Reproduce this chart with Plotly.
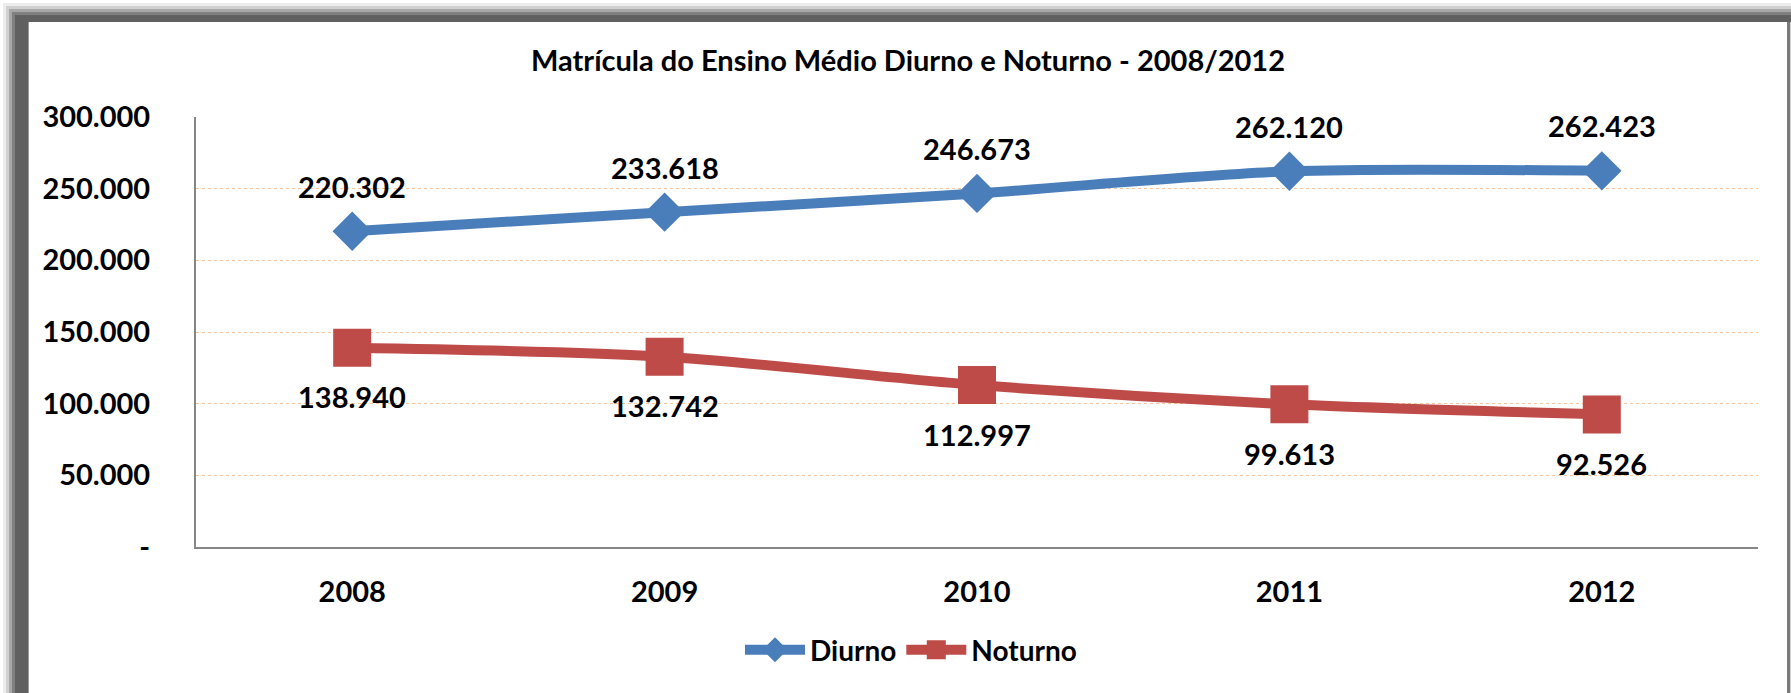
import plotly.graph_objects as go

# ---- data ----
anos = ["2008", "2009", "2010", "2011", "2012"]
diurno = [220302, 233618, 246673, 262120, 262423]
noturno = [138940, 132742, 112997, 99613, 92526]
y_tickvals = [0, 50000, 100000, 150000, 200000, 250000, 300000]
y_ticktext = ["-", "50.000", "100.000", "150.000", "200.000", "250.000", "300.000"]
titulo = "Matrícula do Ensino Médio Diurno e Noturno - 2008/2012"

W, H = 1791, 693
L, R, T, B = 196, 33, 117, 146
PW, PH = W - L - R, H - T - B

def xp(px):
    return (px - L) / PW

def yp(py):
    return (H - B - py) / PH

def fmt(v):
    return f"{v:,}".replace(",", ".")

FONT = "Lato"
BLUE = "#4a7ebb"
RED = "#be4b48"
LBL = dict(family=FONT, size=29, color="black", weight="bold")

fig = go.Figure()
fig.add_trace(go.Scatter(
    x=anos, y=diurno, name="Diurno", mode="lines+markers",
    line=dict(color=BLUE, width=10, shape="spline", smoothing=0.8),
    marker=dict(symbol="diamond", size=27, color=BLUE, line=dict(color=BLUE, width=3)),
    cliponaxis=False,
))
fig.add_trace(go.Scatter(
    x=anos, y=noturno, name="Noturno", mode="lines+markers",
    line=dict(color=RED, width=10, shape="spline", smoothing=0.8),
    marker=dict(symbol="square", size=35, color=RED, line=dict(color=RED, width=3)),
    cliponaxis=False,
))

annotations = []
for i, v in enumerate(diurno):
    annotations.append(dict(x=i, y=v, xref="x", yref="y", text=fmt(v), showarrow=False,
                            yshift=45, xanchor="center", yanchor="middle", font=dict(LBL)))
for i, v in enumerate(noturno):
    annotations.append(dict(x=i, y=v, xref="x", yref="y", text=fmt(v), showarrow=False,
                            yshift=-49, xanchor="center", yanchor="middle", font=dict(LBL)))

shapes = []
def rect(x0, y0, x1, y1, color):
    shapes.append(dict(type="rect", xref="paper", yref="paper",
                       x0=xp(x0), x1=xp(x1), y0=yp(y0), y1=yp(y1),
                       fillcolor=color, line=dict(width=0), layer="below"))

# frame shadow (top and left gradient bands, right edge)
steps = [(3, 6, "#ececec"), (6, 9, "#d0d0d0"), (9, 12, "#a8a8a8"), (12, 15, "#808080")]
for a, b, c in steps:
    rect(a, a, W, b, c)       # top band
    rect(a, a, b, H, c)       # left band
rect(15, 15, W, 22, "#606060")
rect(15, 15, 28, H, "#606060")
rect(28, 22, 29, H, "#9a9a9a")
rect(1787, 22, 1790, H, "#7a7a7a")
rect(1790, 22, W, H, "#d0d0d0")

fig.update_layout(
    width=W, height=H,
    margin=dict(l=L, r=R, t=T, b=B, autoexpand=False),
    paper_bgcolor="white", plot_bgcolor="white",
    separators=",.",
    font=dict(family=FONT, size=29, color="black", weight="bold"),
    title=dict(text=titulo, x=908 / W, xref="container", xanchor="center",
               y=1 - 61 / H, yref="container", yanchor="middle",
               font=dict(family=FONT, size=29, color="black", weight="bold")),
    shapes=shapes,
    annotations=annotations,
    showlegend=True,
    legend=dict(orientation="h", x=xp(911), y=yp(650), xanchor="center", yanchor="middle",
                font=dict(family=FONT, size=28, color="black", weight="bold"),
                bgcolor="rgba(0,0,0,0)", itemwidth=60, traceorder="normal"),
    xaxis=dict(type="category", range=[-0.5, 4.5], showgrid=False,
               showline=True, linecolor="#868686", linewidth=2,
               ticks="", ticklabelstandoff=18,
               tickfont=LBL, zeroline=False, fixedrange=True),
    yaxis=dict(range=[0, 300000], tickvals=y_tickvals, ticktext=y_ticktext,
               showgrid=True, gridcolor="#f8c49c", griddash="dot", gridwidth=1,
               showline=True, linecolor="#868686", linewidth=2,
               ticks="", ticklabelstandoff=38,
               tickfont=LBL, zeroline=False, fixedrange=True),
)

fig.write_html("out.html", config={"displayModeBar": False},
               post_script="document.body.style.margin='0';document.body.style.overflow='hidden';")
